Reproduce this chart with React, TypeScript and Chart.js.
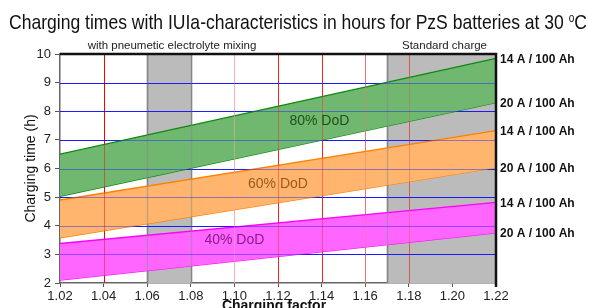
import React, { useEffect, useRef } from "react";
import { Chart, registerables } from "chart.js";

Chart.register(...registerables);

// ---- data ----
const xFactors = [1.02, 1.22];
const dod80High = [6.5, 9.85]; // 14 A / 100 Ah
const dod80Low = [5.03, 8.3]; // 20 A / 100 Ah
const dod60High = [4.9, 7.32];
const dod60Low = [3.58, 6.03];
const dod40High = [3.38, 4.82];
const dod40Low = [2.1, 3.75];

const xTicks = [1.02, 1.04, 1.06, 1.08, 1.1, 1.12, 1.14, 1.16, 1.18, 1.2, 1.22];
const yTicks = [2, 3, 4, 5, 6, 7, 8, 9, 10];
const hLines = [3, 4, 5, 6, 7, 8, 9];
const vLines = [1.04, 1.1, 1.12, 1.14, 1.16, 1.18];
const vLineColors = ["#ff0000", "#ffb0b0", "#ff2020", "#ff2020", "#ff7070", "#d85a5a"];
const grayBands = [
  [1.06, 1.08],
  [1.17, 1.22],
];
const bandNotes = ["with pneumetic electrolyte mixing", "Standard charge"];
const rightLabels = ["14 A / 100 Ah", "20 A / 100 Ah", "14 A / 100 Ah", "20 A / 100 Ah", "14 A / 100 Ah", "20 A / 100 Ah"];
const dodNames = ["80% DoD", "60% DoD", "40% DoD"];
const dodLabelX = [1.139, 1.12, 1.1];
const dodLabelY = [7.66, 5.47, 3.49];
const dodTextColors = ["#1d521d", "#9a5a1a", "#8a1a8a"];

const titleMain = "Charging times with IUIa-characteristics in hours for PzS batteries at 30 ";

const pts = (ys: number[]) => ys.map((y, i) => ({ x: xFactors[i], y }));

function drawLines(chart: any, alpha: number) {
  const { ctx, chartArea: a, scales } = chart;
  const xs = scales.x, ys = scales.y;
  ctx.save();
  ctx.globalAlpha = alpha;
  // gray band edges
  ctx.strokeStyle = "#858585";
  ctx.lineWidth = 1.5;
  grayBands.forEach(([s, e]) => {
    [s, e].forEach((v) => {
      if (v >= 1.22) return;
      const px = Math.round(xs.getPixelForValue(v)) + 0.5;
      ctx.beginPath();
      ctx.moveTo(px, a.top);
      ctx.lineTo(px, a.bottom);
      ctx.stroke();
    });
  });
  ctx.lineWidth = 1;
  vLines.forEach((v, i) => {
    const px = Math.round(xs.getPixelForValue(v)) + 0.5;
    ctx.strokeStyle = vLineColors[i];
    ctx.beginPath();
    ctx.moveTo(px, a.top);
    ctx.lineTo(px, a.bottom);
    ctx.stroke();
  });
  ctx.strokeStyle = "#1a1aff";
  hLines.forEach((v) => {
    const py = Math.round(ys.getPixelForValue(v)) + 0.5;
    ctx.beginPath();
    ctx.moveTo(a.left, py);
    ctx.lineTo(a.right, py);
    ctx.stroke();
  });
  ctx.restore();
}

const overlay = {
  id: "overlay",
  beforeDatasetsDraw(chart: any) {
    const { ctx, chartArea: a, scales } = chart;
    const xs = scales.x;
    ctx.save();
    grayBands.forEach(([s, e]) => {
      const x0 = xs.getPixelForValue(s), x1 = xs.getPixelForValue(e);
      ctx.fillStyle = "#bbbbbb";
      ctx.fillRect(x0, a.top, x1 - x0, a.bottom - a.top);
    });
    ctx.restore();
    drawLines(chart, 1);
  },
  afterDatasetsDraw(chart: any) {
    const { ctx, chartArea: a, scales } = chart;
    const xs = scales.x, ys = scales.y;
    drawLines(chart, 0.45);
    ctx.save();
    // DoD labels
    ctx.font = "14px 'Liberation Sans', Arial, sans-serif";
    ctx.textAlign = "center";
    ctx.textBaseline = "middle";
    dodNames.forEach((t, i) => {
      ctx.fillStyle = dodTextColors[i];
      ctx.fillText(t, xs.getPixelForValue(dodLabelX[i]), ys.getPixelForValue(dodLabelY[i]));
    });
    // right labels at line ends
    const ends = [dod80High, dod80Low, dod60High, dod60Low, dod40High, dod40Low];
    ctx.font = "bold 12px 'Liberation Sans', Arial, sans-serif";
    ctx.fillStyle = "#111";
    ctx.textAlign = "left";
    ends.forEach((arr, i) => {
      ctx.fillText(rightLabels[i], a.right + 4, ys.getPixelForValue(arr[arr.length - 1]) + 1);
    });
    // top and right borders
    ctx.strokeStyle = "#111";
    ctx.lineWidth = 2.5;
    ctx.beginPath();
    ctx.moveTo(a.left, a.top);
    ctx.lineTo(a.right, a.top);
    ctx.lineTo(a.right, a.bottom + 4);
    ctx.stroke();
    // band notes
    ctx.font = "11.5px 'Liberation Sans', Arial, sans-serif";
    ctx.fillStyle = "#222";
    ctx.textAlign = "center";
    ctx.textBaseline = "alphabetic";
    grayBands.forEach(([s, e], i) => {
      const cx = xs.getPixelForValue((s + e) / 2);
      ctx.fillText(bandNotes[i], cx + 3, a.top - 5);
    });
    // title
    ctx.fillStyle = "#111";
    ctx.font = "21px 'Liberation Sans', Arial, sans-serif";
    const wMain = ctx.measureText(titleMain).width;
    ctx.font = "12px 'Liberation Sans', Arial, sans-serif";
    const wO = ctx.measureText("o").width;
    ctx.font = "21px 'Liberation Sans', Arial, sans-serif";
    const wC = ctx.measureText("C").width;
    const total = wMain + wO + wC;
    const target = 578;
    const sx = target / total;
    ctx.save();
    ctx.translate(9, 29);
    ctx.scale(sx, 1);
    ctx.textAlign = "left";
    ctx.fillText(titleMain, 0, 0);
    ctx.font = "12px 'Liberation Sans', Arial, sans-serif";
    ctx.fillText("o", wMain, -7);
    ctx.font = "21px 'Liberation Sans', Arial, sans-serif";
    ctx.fillText("C", wMain + wO, 0);
    ctx.restore();
    // axis titles
    ctx.font = "14px 'Liberation Sans', Arial, sans-serif";
    ctx.fillStyle = "#111";
    ctx.save();
    ctx.translate(31, (a.top + a.bottom) / 2);
    ctx.rotate(-Math.PI / 2);
    ctx.textAlign = "center";
    ctx.textBaseline = "middle";
    ctx.fillText("Charging time (h)", 0, 0);
    ctx.restore();
    ctx.font = "bold 14px 'Liberation Sans', Arial, sans-serif";
    ctx.textAlign = "center";
    ctx.textBaseline = "middle";
    ctx.fillText("Charging factor", (a.left + a.right) / 2 - 4, 306);
    ctx.restore();
  },
};

export default function App() {
  const ref = useRef<HTMLCanvasElement>(null);
  useEffect(() => {
    document.body.style.margin = "0";
    const mk = (data: number[], border: string, bg: string, fill: any) => ({
      data: pts(data),
      borderColor: border,
      backgroundColor: bg,
      borderWidth: 1.3,
      pointRadius: 0,
      fill,
    });
    const chart = new Chart(ref.current!, {
      type: "line",
      data: {
        datasets: [
          mk(dod80High, "#0a8a0a", "#70b770", "+1"),
          mk(dod80Low, "#0a8a0a", "#70b770", false),
          mk(dod60High, "#ff8000", "#ffb56e", "+1"),
          mk(dod60Low, "#ff8000", "#ffb56e", false),
          mk(dod40High, "#ff00ff", "#ff66ff", "+1"),
          mk(dod40Low, "#ff00ff", "#ff66ff", false),
        ],
      },
      options: {
        responsive: false,
        animation: false,
        layout: { padding: { left: 0, top: 54, right: 93, bottom: 0 } },
        plugins: { legend: { display: false }, tooltip: { enabled: false }, title: { display: false } },
        scales: {
          x: {
            type: "linear",
            min: 1.02,
            max: 1.22,
            afterBuildTicks: (s: any) => {
              s.ticks = xTicks.map((v) => ({ value: v }));
            },
            afterFit: (s: any) => {
              s.height = 25;
            },
            ticks: {
              callback: (v: any) => Number(v).toFixed(2),
              font: { family: "'Liberation Sans', Arial, sans-serif", size: 13 },
              color: "#222",
              padding: 2,
              maxRotation: 0,
              autoSkip: false,
            },
            grid: { drawOnChartArea: false, drawTicks: true, tickLength: 4, color: "#555" },
            border: { color: "#666", width: 1.5 },
          },
          y: {
            type: "linear",
            min: 2,
            max: 10,
            afterBuildTicks: (s: any) => {
              s.ticks = yTicks.map((v) => ({ value: v }));
            },
            afterFit: (s: any) => {
              s.width = 60;
            },
            ticks: {
              font: { family: "'Liberation Sans', Arial, sans-serif", size: 13 },
              color: "#222",
              padding: 4,
            },
            grid: { drawOnChartArea: false, drawTicks: true, tickLength: 5, color: "#555" },
            border: { color: "#666", width: 1.5 },
          },
        },
      },
      plugins: [overlay],
    });
    return () => chart.destroy();
  }, []);
  return (
    <div style={{ width: 589, height: 308 }}>
      <canvas ref={ref} width={589} height={308} style={{ width: 589, height: 308, display: "block" }} />
    </div>
  );
}
